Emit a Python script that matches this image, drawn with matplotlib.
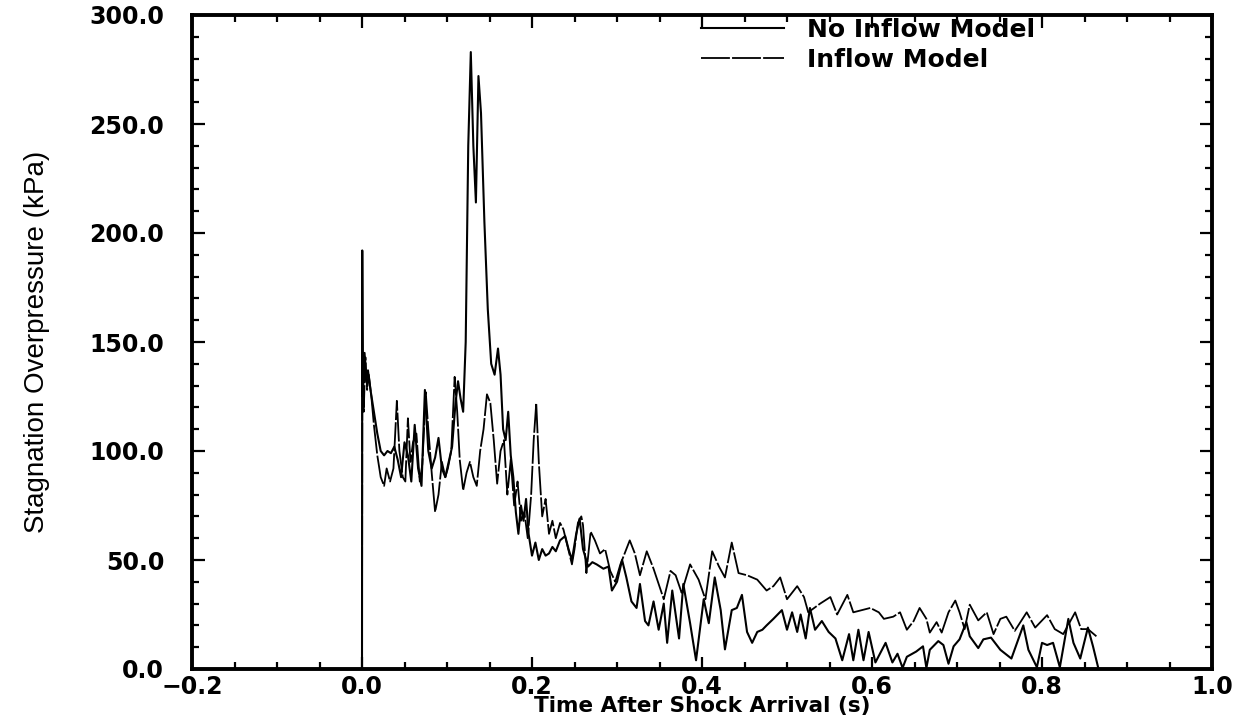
import matplotlib
matplotlib.use("Agg")
import matplotlib.pyplot as plt
from matplotlib.ticker import MultipleLocator, FuncFormatter

# --- data (time in s, pressure in kPa) ---
t_no_inflow = [0.000, 0.0003, 0.001, 0.003, 0.005, 0.007, 0.010, 0.014, 0.018, 0.022,
               0.026, 0.030, 0.034, 0.038, 0.042, 0.046, 0.050, 0.054, 0.058, 0.062,
               0.066, 0.070, 0.074, 0.078, 0.082, 0.086, 0.090, 0.094, 0.098, 0.102,
               0.106, 0.110, 0.113, 0.116, 0.119, 0.122, 0.125, 0.128, 0.131, 0.134,
               0.137, 0.140, 0.144, 0.148, 0.152, 0.156, 0.160, 0.163, 0.166, 0.169,
               0.172, 0.175, 0.178, 0.181, 0.184, 0.187, 0.190, 0.193, 0.196, 0.200,
               0.204, 0.208, 0.212, 0.216, 0.220, 0.224, 0.228, 0.233, 0.239, 0.243,
               0.247, 0.252, 0.256, 0.260, 0.266, 0.271, 0.276, 0.284, 0.290, 0.294,
               0.300, 0.306, 0.311, 0.317, 0.323, 0.327, 0.333, 0.337, 0.343, 0.349,
               0.355, 0.359, 0.365, 0.373, 0.378, 0.386, 0.393, 0.402, 0.408, 0.415,
               0.422, 0.427, 0.435, 0.441, 0.447, 0.453, 0.459, 0.465, 0.471, 0.476,
               0.484, 0.494, 0.500, 0.506, 0.512, 0.516, 0.522, 0.527, 0.533, 0.541,
               0.549, 0.557, 0.565, 0.573, 0.578, 0.584, 0.590, 0.596, 0.604, 0.616,
               0.624, 0.630, 0.636, 0.641, 0.652, 0.660, 0.664, 0.668, 0.678, 0.684,
               0.690, 0.696, 0.703, 0.711, 0.715, 0.725, 0.731, 0.740, 0.751, 0.764,
               0.778, 0.784, 0.794, 0.800, 0.806, 0.813, 0.821, 0.831, 0.837, 0.845,
               0.854, 0.860, 0.866]
p_no_inflow = [0, 192, 125, 145, 132, 137, 128, 118, 108, 100,
               98, 100, 99, 102, 96, 88, 104, 98, 86, 112,
               92, 84, 128, 100, 92, 97, 106, 92, 88, 95,
               102, 122, 132, 124, 118, 150, 240, 283, 240, 214,
               272, 255, 205, 165, 140, 135, 147, 135, 110, 105,
               118, 98, 88, 72, 62, 75, 68, 78, 62, 52,
               58, 50, 55, 52, 53, 56, 54, 59, 61, 55,
               50, 62, 69, 55, 47, 49, 48, 46, 47, 36,
               40, 50, 42, 31, 28, 39, 22, 20, 31, 18,
               30, 12, 36, 14, 39, 21, 4, 32, 21, 42,
               27, 9, 27, 28, 34, 17, 12, 17, 18, 20,
               23, 27, 18, 26, 17, 25, 14, 28, 18, 22,
               17, 14, 4, 16, 4, 18, 4, 17, 3, 12,
               3, 7, 0.5, 5.6, 8, 10.4, 0.5, 8.8, 12.8, 11,
               2.4, 10.4, 13.6, 21.5, 15, 9.6, 13.6, 14.4, 8.8, 4.8,
               20, 8.8, 0.8, 12, 11, 12, 0.8, 23, 12, 4.8,
               19, 10.4, 0.8]

t_inflow = [0.000, 0.0004, 0.002, 0.004, 0.006, 0.008, 0.011, 0.014, 0.018, 0.022,
            0.026, 0.029, 0.033, 0.037, 0.041, 0.044, 0.048, 0.051, 0.054, 0.057,
            0.060, 0.064, 0.068, 0.071, 0.075, 0.078, 0.082, 0.086, 0.090, 0.094,
            0.098, 0.101, 0.105, 0.109, 0.112, 0.115, 0.119, 0.123, 0.127, 0.131,
            0.135, 0.139, 0.143, 0.147, 0.151, 0.155, 0.159, 0.163, 0.167, 0.171,
            0.175, 0.179, 0.183, 0.187, 0.191, 0.195, 0.199, 0.202, 0.205, 0.208,
            0.212, 0.216, 0.220, 0.224, 0.228, 0.233, 0.237, 0.247, 0.250, 0.254,
            0.258, 0.260, 0.264, 0.269, 0.274, 0.280, 0.286, 0.292, 0.298, 0.304,
            0.315, 0.321, 0.327, 0.335, 0.343, 0.355, 0.363, 0.369, 0.376, 0.386,
            0.396, 0.404, 0.412, 0.420, 0.427, 0.435, 0.443, 0.453, 0.465, 0.476,
            0.484, 0.492, 0.500, 0.512, 0.520, 0.525, 0.539, 0.551, 0.559, 0.571,
            0.578, 0.598, 0.608, 0.614, 0.625, 0.633, 0.641, 0.649, 0.656, 0.664,
            0.668, 0.676, 0.682, 0.690, 0.698, 0.703, 0.709, 0.715, 0.725, 0.735,
            0.743, 0.751, 0.758, 0.768, 0.782, 0.792, 0.806, 0.815, 0.825, 0.839,
            0.846, 0.854, 0.864]
p_inflow = [0, 145, 118, 143, 128, 135, 125, 112, 98, 88,
            84, 92, 86, 92, 123, 100, 88, 86, 115, 95,
            104, 108, 86, 94, 127, 110, 90, 72, 80, 95,
            88, 92, 100, 134, 118, 96, 82, 90, 95, 88,
            84, 100, 110, 126, 122, 105, 85, 100, 105, 80,
            96, 75, 86, 68, 72, 60, 80, 105, 122, 95,
            70, 78, 62, 68, 60, 67, 64, 48, 55, 67,
            70, 66, 44, 63, 59, 53, 55, 45, 40, 48,
            59, 53, 43, 54, 46, 32, 45, 43, 35, 48,
            41, 32, 54, 47, 42, 58, 44, 43, 41, 36,
            38, 42, 32, 38, 33, 26, 30, 33, 25, 34,
            26, 28, 26, 23, 24, 26, 18, 22, 28, 23,
            16.7, 21.5, 16.7, 26, 31.4, 26, 18.3, 29.5, 22.3, 26,
            16, 23, 24, 17.5, 26, 19, 24.7, 18.3, 16, 26,
            18.3, 18.3, 15]

x_label = "Time After Shock Arrival (s)"
y_label = "Stagnation Overpressure (kPa)"
series_names = ["No Inflow Model", "Inflow Model"]

# --- figure ---
fig = plt.figure(figsize=(12.39, 7.19), dpi=100)
ax = fig.add_axes([192 / 1239, 1 - 669 / 719, (1212 - 192) / 1239, (669 - 15) / 719])

ax.plot(t_no_inflow, p_no_inflow, color="black", lw=1.5, label=series_names[0])
ax.plot(t_inflow, p_inflow, color="black", lw=1.3, dashes=(16, 1.2), label=series_names[1])

ax.set_xlim(-0.2, 1.0)
ax.set_ylim(0, 300)
ax.xaxis.set_major_locator(MultipleLocator(0.2))
ax.xaxis.set_minor_locator(MultipleLocator(0.05))
ax.yaxis.set_major_locator(MultipleLocator(50))
ax.yaxis.set_minor_locator(MultipleLocator(10))
fmt = FuncFormatter(lambda v, pos: f"{v:.1f}".replace("-", "\u2212"))
ax.xaxis.set_major_formatter(fmt)
ax.yaxis.set_major_formatter(fmt)

ax.tick_params(which="both", direction="in", top=True, right=True, width=1.6)
ax.tick_params(which="major", length=9, labelsize=17)
ax.tick_params(axis="y", which="major", pad=20)
ax.tick_params(axis="x", which="major", pad=4)
ax.tick_params(which="minor", length=5)
for lab in ax.get_xticklabels() + ax.get_yticklabels():
    lab.set_fontfamily("DejaVu Sans")
    lab.set_fontweight("bold")
for sp in ax.spines.values():
    sp.set_linewidth(2.8)

ax.set_xlabel(x_label, fontsize=15.5, fontfamily="DejaVu Sans", fontweight="bold", labelpad=-1.5)
ax.set_ylabel(y_label, fontsize=20, fontfamily="Liberation Sans", labelpad=28)

leg = ax.legend(loc="upper left", bbox_to_anchor=(0.477, 1.03), frameon=False,
                handlelength=3.3, handletextpad=0.92, labelspacing=0.24,
                prop={"family": "DejaVu Sans", "weight": "bold", "size": 18})

fig.savefig("out.png", dpi=100)
